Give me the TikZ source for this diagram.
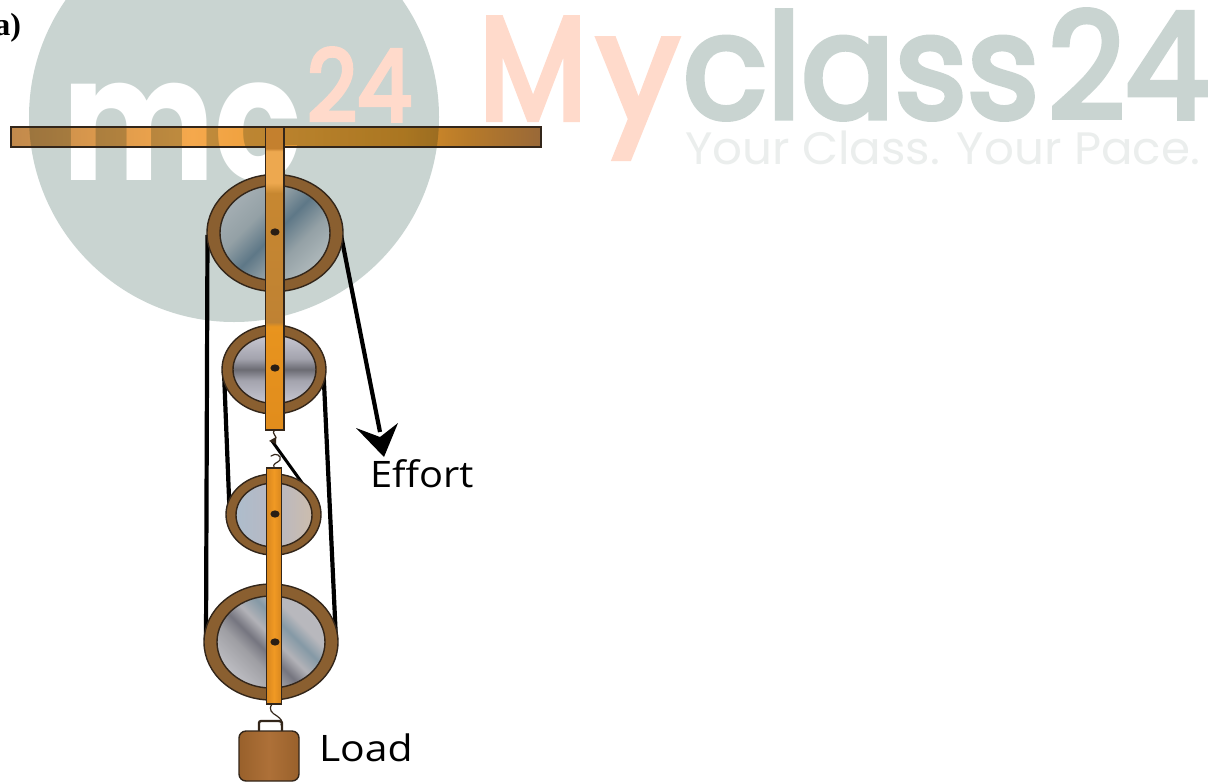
\documentclass[tikz,border=0pt]{standalone}
\usepackage{fontspec}
\usepackage{graphicx}
\usetikzlibrary{calc}
\setmainfont{Liberation Serif}
\newfontfamily\popf{Poppins}
\newfontfamily\popm[FakeBold=4]{Poppins}
\newfontfamily\labf{Open Sans}
\definecolor{wmgrey}{HTML}{C9D4D1}
\definecolor{wmpeach}{HTML}{FFDACB}
\definecolor{wmlight}{HTML}{EBEEED}
\definecolor{rimc}{HTML}{8A5F30}
\definecolor{edgec}{HTML}{33261A}
\pgfdeclarehorizontalshading{beamgrad}{100bp}{
 rgb(0bp)=(.76,.54,.30);rgb(25bp)=(.76,.54,.30);rgb(42bp)=(.96,.66,.30);rgb(50bp)=(.93,.62,.22);
 rgb(62bp)=(.85,.56,.16);rgb(68bp)=(.72,.48,.16);rgb(75bp)=(.60,.41,.22);rgb(100bp)=(.60,.41,.22)}
\pgfdeclareverticalshading{hangone}{100bp}{
 rgb(0bp)=(.88,.55,.11);rgb(25bp)=(.88,.55,.11);rgb(42.1bp)=(.91,.58,.12);rgb(42.8bp)=(.75,.51,.20);
 rgb(64.1bp)=(.78,.53,.19);rgb(65.8bp)=(.93,.66,.31);rgb(71bp)=(.93,.66,.31);rgb(71.5bp)=(.77,.50,.18);
 rgb(75bp)=(.77,.50,.18);rgb(100bp)=(.77,.50,.18)}
\pgfdeclarehorizontalshading{hangtwo}{100bp}{
 rgb(0bp)=(.85,.53,.12);rgb(25bp)=(.85,.53,.12);rgb(50bp)=(.94,.60,.14);rgb(75bp)=(.85,.53,.12);rgb(100bp)=(.85,.53,.12)}
\pgfdeclarehorizontalshading{discA}{100bp}{
 rgb(0bp)=(.64,.68,.70);rgb(25bp)=(.64,.68,.70);rgb(38bp)=(.58,.63,.65);rgb(50bp)=(.37,.47,.53);
 rgb(62bp)=(.58,.63,.65);rgb(75bp)=(.68,.72,.73);rgb(100bp)=(.68,.72,.73)}
\pgfdeclarehorizontalshading{discB}{100bp}{
 rgb(0bp)=(.78,.78,.82);rgb(25bp)=(.78,.78,.82);rgb(42bp)=(.64,.64,.68);rgb(50bp)=(.42,.42,.45);
 rgb(58bp)=(.64,.64,.68);rgb(75bp)=(.78,.78,.82);rgb(100bp)=(.78,.78,.82)}
\pgfdeclarehorizontalshading{discC}{100bp}{
 rgb(0bp)=(.68,.74,.80);rgb(25bp)=(.68,.74,.80);rgb(50bp)=(.72,.72,.76);rgb(75bp)=(.80,.74,.68);rgb(100bp)=(.80,.74,.68)}
\pgfdeclarehorizontalshading{discD}{100bp}{
 rgb(0bp)=(.74,.74,.76);rgb(25bp)=(.74,.74,.76);rgb(38bp)=(.62,.62,.64);rgb(45bp)=(.46,.46,.50);
 rgb(52bp)=(.70,.70,.72);rgb(60bp)=(.52,.60,.65);rgb(67bp)=(.72,.72,.74);rgb(100bp)=(.74,.74,.76)}
\pgfdeclarehorizontalshading{loadsh}{100bp}{
 rgb(0bp)=(.60,.38,.17);rgb(25bp)=(.60,.38,.17);rgb(50bp)=(.68,.44,.22);rgb(75bp)=(.60,.38,.17);rgb(100bp)=(.60,.38,.17)}
\tikzset{
 wm/.style={inner sep=0pt,outer sep=0pt},
 rope/.style={draw=black,line width=4.2pt},
 rim/.style={fill=rimc,draw=edgec,line width=1.4pt},
 disc/.style={draw=edgec,line width=1.4pt},
 hangerbox/.style={draw=edgec,line width=1.8pt},
 axlepin/.style={fill=edgec!80!black},
 wire/.style={draw=edgec,line width=1.2pt,line cap=round},
 lab/.style={inner sep=0pt,outer sep=0pt,text=black}
}
\begin{document}
\begin{tikzpicture}[x=1pt,y=-1pt]
\useasboundingbox (0,0) rectangle (1217,782);
\clip (0,0) rectangle (1217,782);
\fill[white] (0,0) rectangle (1217,782);
% watermark
\fill[wmgrey] (234,117) circle [radius=205];
\node[wm,anchor=south west,text=white] (wmmc) at (62,182) {\resizebox*{240pt}{99pt}{\popf\bfseries mc}};
\node[wm,anchor=south west,text=wmpeach] (wmnum) at (307,121) {\resizebox*{105pt}{73pt}{\popm 24}};
\node[wm,anchor=north west,text=wmpeach] (wmM) at (479,18) {\resizebox*{108pt}{101pt}{\popm M}};
\node[wm,anchor=north west,text=wmpeach] (wmy) at (597,39) {\resizebox*{82pt}{119pt}{\popm y}};
\node[wm,anchor=north west,text=wmgrey] (wmclass) at (683,11) {\resizebox*{356pt}{108pt}{\popm class}};
\node[wm,anchor=north west,text=wmgrey] (wmtf) at (1048,10) {\resizebox*{161pt}{108pt}{\popm 24}};
\node[wm,anchor=north west,text=wmlight] (wmtag) at (685,131) {\resizebox*{515pt}{34pt}{\popf Your Class. Your Pace.}};
% label
\node[lab,anchor=base east] (parta) at (21,35) {\fontsize{32}{32}\selectfont\bfseries a)};
% coordinates of rope ends
\coordinate (p1l) at (207.5,235);
\coordinate (p1r) at (341,235);
\coordinate (p2l) at (224,372);
\coordinate (p2r) at (323.5,372);
\coordinate (p3l) at (229.5,510);
\coordinate (p3r) at (313,498);
\coordinate (p4l) at (206,640);
\coordinate (p4r) at (336,640);
\coordinate (efft) at (380,432);
\coordinate (hooka) at (272,441);
% ropes
\draw[rope] (p1l) -- (p4l);
\draw[rope] (p1r) -- (efft);
\draw[rope] (p2l) -- (p3l);
\draw[rope] (p2r) -- (p4r);
\draw[line width=3pt] (p3r) -- (hooka);
\fill[black] (356,428) -- (380,437) -- (398,423) -- (384,457) -- cycle;
% beam
\begin{scope}[blend mode=multiply]
\shade[shading=beamgrad] (11,127) rectangle (541,147);
\end{scope}
\draw[edgec,line width=1.8pt] (11,127) rectangle (541,147);
% pulleys
\path[rim] (275,233) ellipse [x radius=68,y radius=58.5];
\shade[shading=discA,shading angle=-45,disc] (275,233) ellipse [x radius=55,y radius=47.5];
\path[rim] (274,369.5) ellipse [x radius=52,y radius=44.5];
\shade[shading=discB,shading angle=90,disc] (274.5,369.5) ellipse [x radius=41.5,y radius=34];
\path[rim] (273.5,514.5) ellipse [x radius=47.5,y radius=40.5];
\shade[shading=discC,disc] (274,515) ellipse [x radius=38,y radius=32];
\path[rim] (271,642) ellipse [x radius=67,y radius=58];
\shade[shading=discD,shading angle=45,disc] (271,642) ellipse [x radius=54,y radius=46];
% hangers
\shade[shading=hangone,hangerbox] (265.5,127) rectangle (284,430);
\shade[shading=hangtwo,hangerbox] (266.5,468) rectangle (281.5,704);
% axles
\foreach \yy in {232,368,514,642}{\fill[axlepin] (275,\yy) ellipse [x radius=4.6,y radius=3.6];}
% hooks
\coordinate (hb1) at (275,430);
\coordinate (hb2) at (274,468);
\coordinate (hb3) at (272,704);
\draw[wire] (hb1) .. controls (270,434) and (279,436) .. (275,440) -- (hooka);
\fill[edgec] (269,441) -- (276,437) -- (276,444) -- cycle;
\draw[wire] (271,456) .. controls (276,452) and (282,456) .. (280,460) .. controls (278,463) and (272,463) .. (hb2);
\draw[wire] (hb3) .. controls (268,710) and (272,713) .. (277,716) .. controls (281,719) and (283,721) .. (281,725);
% load
\draw[edgec,line width=2.4pt] (259,731) -- (259,723) .. controls (259,722) and (260,721) .. (261,721) -- (279,721) .. controls (281,721) and (282,722) .. (282,723) -- (282,731);
\shade[shading=loadsh,draw=edgec,line width=1.4pt,rounded corners=7pt] (239,731) rectangle (299,781);
% labels
\node[lab,anchor=base west] (effort) at (370,487) {\scalebox{1.09}[1]{\labf\fontsize{36.5}{36.5}\selectfont Effort}};
\node[lab,anchor=base west] (load) at (319,761) {\scalebox{1.12}[1]{\labf\fontsize{36.5}{36.5}\selectfont Load}};
\end{tikzpicture}
\end{document}
